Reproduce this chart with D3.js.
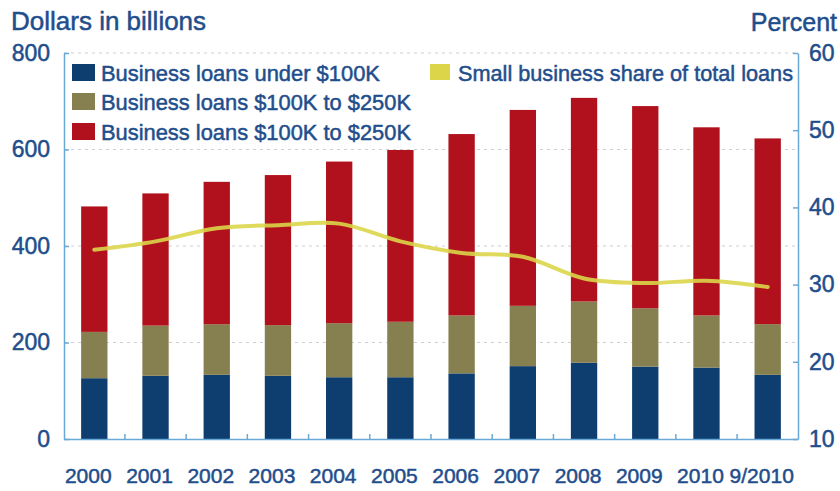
<!DOCTYPE html>
<html>
<head>
<meta charset="utf-8">
<script src="https://cdn.jsdelivr.net/npm/d3@7"></script>
<style>
  html, body { margin: 0; padding: 0; background: #ffffff; }
  svg { display: block; }
  text { font-family: "Liberation Sans", Arial, sans-serif; fill: #1f4e8c; stroke: #1f4e8c; stroke-width: 0.5px; }
</style>
</head>
<body>
<svg id="chart" width="840" height="491"></svg>
<script>
// Categories (years) along the x axis
const categories = ["2000", "2001", "2002", "2003", "2004", "2005",
                    "2006", "2007", "2008", "2009", "2010", "9/2010"];

// Loan volumes, dollars in billions (stacked bottom to top)
const loansUnder100K   = [126, 131, 133, 131, 128, 128, 136, 151, 158, 150, 148, 133];
const loans100Kto250K  = [ 96, 104, 105, 105, 112, 115, 120, 125, 127, 121, 108, 105];
const loans250Kto1M    = [260, 274, 295, 311, 335, 356, 376, 406, 422, 419, 390, 385];

// Small business share of total loans, percent (right axis)
const smallBizShare = [34.5, 35.6, 37.3, 37.7, 37.9, 35.6, 34.1, 33.6, 30.8, 30.2, 30.5, 29.7];

// Axis ticks
const leftTicks  = [0, 200, 400, 600, 800];
const rightTicks = [10, 20, 30, 40, 50, 60];

// Legend labels (as printed)
const seriesLabels = [
  "Business loans under $100K",
  "Business loans $100K to $250K",
  "Business loans $100K to $250K"
];
const lineLabel = "Small business share of total loans";

const seriesKeys   = ["under100K", "mid", "upper"];
const seriesColors = ["#0e3d6f", "#867f4f", "#b1111d"];
const lineColor    = "#dcd54a";
const axisColor    = "#6aa8d6";
const textColor    = "#1f4e8c";

const svg = d3.select("#chart");
const plot = { left: 64, right: 798, top: 53, bottom: 439 };

const x = d3.scaleBand()
  .domain(categories)
  .range([plot.left, plot.right])
  .paddingInner(0.57)
  .paddingOuter(0.28);

const yLeft = d3.scaleLinear().domain([0, 800]).range([plot.bottom, plot.top]);
const yRight = d3.scaleLinear().domain([10, 60]).range([plot.bottom, plot.top]);

// Table for the stack layout
const table = categories.map((c, i) => ({
  cat: c,
  under100K: loansUnder100K[i],
  mid: loans100Kto250K[i],
  upper: loans250Kto1M[i]
}));
const stacked = d3.stack().keys(seriesKeys)(table);

// Horizontal dotted gridlines
svg.append("g")
  .selectAll("line")
  .data(leftTicks.filter(d => d > 0))
  .join("line")
  .attr("x1", plot.left)
  .attr("x2", plot.right)
  .attr("y1", d => yLeft(d))
  .attr("y2", d => yLeft(d))
  .attr("stroke", "#cfcfcf")
  .attr("stroke-width", 1)
  .attr("stroke-dasharray", "3,4");

// Stacked bars
svg.append("g")
  .selectAll("g")
  .data(stacked)
  .join("g")
  .attr("fill", (d, i) => seriesColors[i])
  .selectAll("rect")
  .data(d => d)
  .join("rect")
  .attr("x", d => x(d.data.cat))
  .attr("width", x.bandwidth())
  .attr("y", d => yLeft(d[1]))
  .attr("height", d => yLeft(d[0]) - yLeft(d[1]));

// Share line on the right-hand scale
const line = d3.line()
  .x((d, i) => x(categories[i]) + x.bandwidth() / 2)
  .y(d => yRight(d))
  .curve(d3.curveCatmullRom.alpha(0.5));

svg.append("path")
  .datum(smallBizShare)
  .attr("d", line)
  .attr("fill", "none")
  .attr("stroke", lineColor)
  .attr("stroke-width", 4)
  .attr("stroke-opacity", 0.9)
  .attr("stroke-linecap", "round");

// Left axis (ticks point into the plot)
const leftAxis = svg.append("g")
  .attr("transform", `translate(${plot.left},0)`)
  .call(d3.axisLeft(yLeft).tickValues(leftTicks).tickSizeInner(-5).tickSizeOuter(0).tickPadding(14));
leftAxis.select(".domain").attr("stroke", axisColor).attr("stroke-width", 1.5);
leftAxis.selectAll(".tick line").attr("stroke", axisColor).attr("stroke-width", 1.5);
leftAxis.selectAll("text")
  .attr("fill", textColor)
  .style("font-size", "23px");

// Right axis
const rightAxis = svg.append("g")
  .attr("transform", `translate(${plot.right},0)`)
  .call(d3.axisRight(yRight).tickValues(rightTicks).tickSizeInner(-5).tickSizeOuter(0).tickPadding(11));
rightAxis.select(".domain").attr("stroke", axisColor).attr("stroke-width", 1.5);
rightAxis.selectAll(".tick line").attr("stroke", axisColor).attr("stroke-width", 1.5);
rightAxis.selectAll("text")
  .attr("fill", textColor)
  .style("font-size", "23px");

// Bottom axis: labels under each bar, small ticks between bars
const bottomAxis = svg.append("g")
  .attr("transform", `translate(0,${plot.bottom})`)
  .call(d3.axisBottom(x).tickSizeInner(0).tickSizeOuter(0).tickPadding(29));
bottomAxis.select(".domain").attr("stroke", axisColor).attr("stroke-width", 1.5);
bottomAxis.selectAll("text")
  .attr("fill", textColor)
  .attr("dx", -6)
  .style("font-size", "21px");

const gap = x.step() * x.paddingInner();
svg.append("g")
  .selectAll("line")
  .data(categories.slice(0, -1))
  .join("line")
  .attr("x1", d => x(d) + x.bandwidth() + gap / 2)
  .attr("x2", d => x(d) + x.bandwidth() + gap / 2)
  .attr("y1", plot.bottom)
  .attr("y2", plot.bottom - 5)
  .attr("stroke", axisColor)
  .attr("stroke-width", 1.5);

// Axis titles
svg.append("text")
  .attr("x", 11)
  .attr("y", 30)
  .style("font-size", "26px")
  .text("Dollars in billions");

svg.append("text")
  .attr("x", 837)
  .attr("y", 31)
  .attr("text-anchor", "end")
  .style("font-size", "25px")
  .text("Percent");

// Legend: bar series
const legendRowsY = [81, 110, 140];
const legendWidths = [279, 310, 310];
const legend = svg.append("g");
seriesLabels.forEach((label, i) => {
  legend.append("rect")
    .attr("x", 72)
    .attr("y", legendRowsY[i] - 17)
    .attr("width", 23)
    .attr("height", 17)
    .attr("fill", seriesColors[i]);
  legend.append("text")
    .attr("x", 101)
    .attr("y", legendRowsY[i])
    .attr("textLength", legendWidths[i])
    .attr("lengthAdjust", "spacingAndGlyphs")
    .style("font-size", "22px")
    .text(label);
});

// Legend: line series
legend.append("rect")
  .attr("x", 430)
  .attr("y", 64)
  .attr("width", 20)
  .attr("height", 16)
  .attr("fill", lineColor);
legend.append("text")
  .attr("x", 458)
  .attr("y", 81)
  .attr("textLength", 335)
  .attr("lengthAdjust", "spacingAndGlyphs")
  .style("font-size", "22px")
  .text(lineLabel);
</script>
</body>
</html>
